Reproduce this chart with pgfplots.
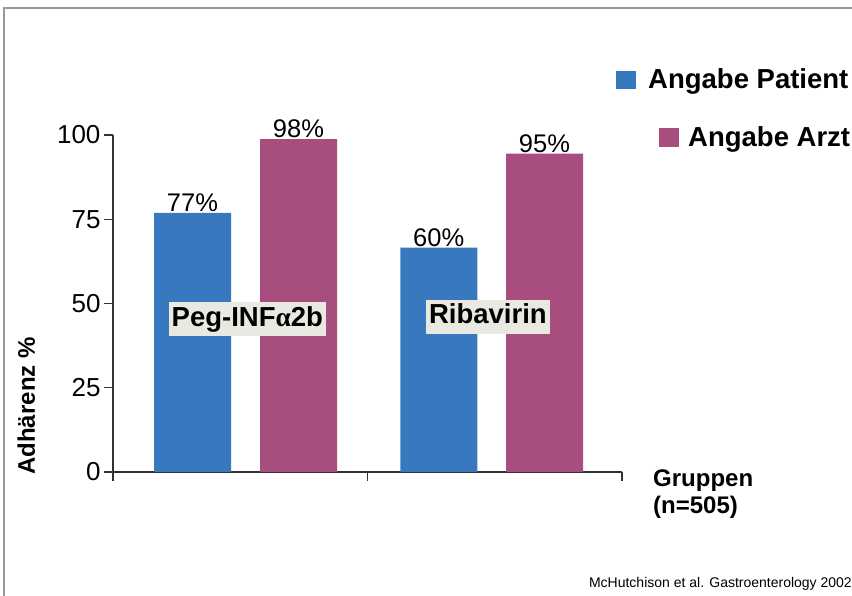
\documentclass[border=0pt]{standalone}
\usepackage{pgfplots}
\pgfplotsset{compat=1.18}
\usepackage{fontspec}
\setmainfont{Liberation Sans}
\newfontfamily\serifalpha{Liberation Serif}
\definecolor{pblue}{HTML}{3778BF}
\definecolor{pred}{HTML}{A84E7E}
\definecolor{boxbg}{HTML}{E9E9E1}
\definecolor{axcol}{HTML}{333333}
\begin{document}
\begin{tikzpicture}[x=1pt,y=1pt]
\useasboundingbox (0,0) rectangle (852,596);
\draw[color=black!40, line width=1.5pt] (4,-2) -- (4,588) -- (854,588);
\begin{axis}[
  at={(113pt,124pt)}, anchor=south west,
  scale only axis, width=509pt, height=337pt,
  xmin=0, xmax=2, ymin=0, ymax=100,
  axis x line=bottom, axis y line=left,
  axis line style={-, line width=1.2pt, color=axcol},
  xtick={0,1,2}, xticklabels={},
  ytick={0,25,50,75,100},
  tick align=outside,
  major tick length=9pt,
  tick style={line width=1.2pt, color=axcol},
  /pgf/number format/assume math mode=true,
  yticklabel style={font=\fontsize{26}{26}\selectfont},
  clip=false,
]
\addplot[ybar, bar shift=0pt, bar width=0.3026, fill=pblue, draw=none,
  nodes near coords, point meta=explicit symbolic,
  nodes near coords style={font=\fontsize{25.5}{25.5}\selectfont, inner sep=1pt, anchor=south, text=black}]
  coordinates {(0.3124,76.9)[77\%] (1.2800,66.6)[60\%]};
\addplot[ybar, bar shift=0pt, bar width=0.3026, fill=pred, draw=none,
  nodes near coords, point meta=explicit symbolic,
  nodes near coords style={font=\fontsize{25.5}{25.5}\selectfont, inner sep=1pt, anchor=south, text=black}]
  coordinates {(0.7289,98.8)[98\%] (1.6955,94.5)[95\%]};
\node[fill=boxbg, font=\bfseries\fontsize{27.5}{27.5}\selectfont, inner xsep=3pt, inner ysep=4pt,
  text height=20pt, text depth=5.8pt] at (axis cs:0.528,45.4) {Peg-INF{\serifalpha α}2b};
\node[fill=boxbg, font=\bfseries\fontsize{27.5}{27.5}\selectfont, inner xsep=3pt, inner ysep=4pt,
  text height=20pt, text depth=5.8pt] at (axis cs:1.473,46.1) {Ribavirin};
\end{axis}
% legend
\fill[pblue] (616,507) rectangle (636,525);
\node[anchor=base west, inner sep=0pt, font=\bfseries\fontsize{27.5}{27.5}\selectfont] at (648,507) {Angabe Patient};
\fill[pred] (659,449) rectangle (679,468);
\node[anchor=base west, inner sep=0pt, font=\bfseries\fontsize{27.5}{27.5}\selectfont] at (688,449) {Angabe Arzt};
% labels
\node[rotate=90, anchor=base, inner sep=0pt, font=\bfseries\fontsize{24}{24}\selectfont] at (35,190) {Adhärenz \%};
\node[anchor=base west, inner sep=0pt, font=\bfseries\fontsize{24}{24}\selectfont] at (653,109) {Gruppen};
\node[anchor=base west, inner sep=0pt, font=\bfseries\fontsize{24}{24}\selectfont] at (653,82) {(n=505)};
\node[anchor=base east, inner sep=0pt, font=\fontsize{14}{14}\selectfont] at (852,8) {McHutchison et al. Gastroenterology 2002};
\end{tikzpicture}
\end{document}
